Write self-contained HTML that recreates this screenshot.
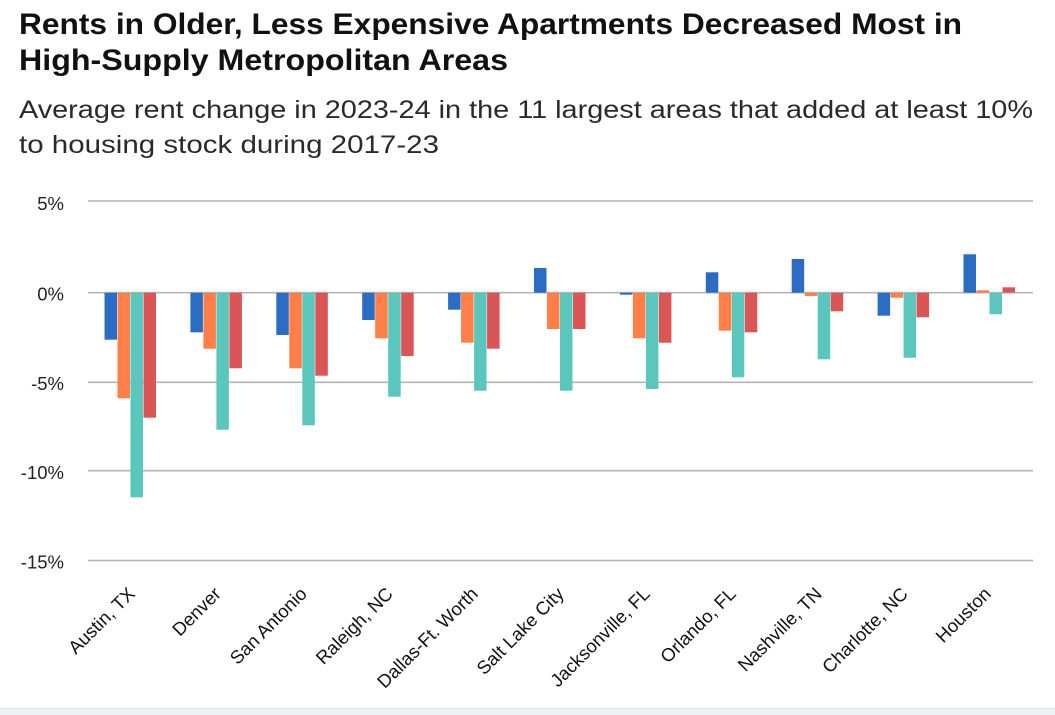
<!DOCTYPE html>
<html><head><meta charset="utf-8"><style>
html,body{margin:0;padding:0;background:#fff;}
svg{display:block;}
text{font-family:"Liberation Sans",sans-serif;}
</style></head><body>
<svg width="1055" height="715" viewBox="0 0 1055 715" xmlns="http://www.w3.org/2000/svg">
<rect width="1055" height="715" fill="#fff"/>
<text x="19" y="34" font-size="30" font-weight="bold" fill="#111" textLength="943" lengthAdjust="spacingAndGlyphs">Rents in Older, Less Expensive Apartments Decreased Most in</text>
<text x="19" y="70" font-size="30" font-weight="bold" fill="#111" textLength="489" lengthAdjust="spacingAndGlyphs">High-Supply Metropolitan Areas</text>
<text x="19" y="118" font-size="25" fill="#2a2a2a" textLength="1014" lengthAdjust="spacingAndGlyphs">Average rent change in 2023-24 in the 11 largest areas that added at least 10%</text>
<text x="19" y="153" font-size="25" fill="#2a2a2a" textLength="420" lengthAdjust="spacingAndGlyphs">to housing stock during 2017-23</text>
<g stroke="#b4b4b4" stroke-width="1.6">
<line x1="88" y1="201" x2="1033" y2="201"/>
<line x1="88" y1="382.3" x2="1033" y2="382.3"/>
<line x1="88" y1="470.7" x2="1033" y2="470.7"/>
<line x1="88" y1="560.5" x2="1033" y2="560.5"/>
<line x1="88" y1="292.7" x2="1033" y2="292.7"/>
</g>
<g font-size="18.5" fill="#222" text-anchor="end">
<text x="64" y="210">5%</text>
<text x="64" y="300.5">0%</text>
<text x="64" y="390">-5%</text>
<text x="64" y="479">-10%</text>
<text x="64" y="568.5">-15%</text>
</g>
<g>
<rect x="104.5" y="292.7" width="12.5" height="47" fill="#2b6cc4"/>
<rect x="117.5" y="292.7" width="12.5" height="105.6" fill="#fe7f48"/>
<rect x="130.5" y="292.7" width="12.5" height="204.6" fill="#5bc7bc"/>
<rect x="143.5" y="292.7" width="12.5" height="125" fill="#d95556"/>
<rect x="190.4" y="292.7" width="12.5" height="39.6" fill="#2b6cc4"/>
<rect x="203.4" y="292.7" width="12.5" height="56" fill="#fe7f48"/>
<rect x="216.4" y="292.7" width="12.5" height="137" fill="#5bc7bc"/>
<rect x="229.4" y="292.7" width="12.5" height="75.6" fill="#d95556"/>
<rect x="276.3" y="292.7" width="12.5" height="42.3" fill="#2b6cc4"/>
<rect x="289.3" y="292.7" width="12.5" height="75.6" fill="#fe7f48"/>
<rect x="302.3" y="292.7" width="12.5" height="132.6" fill="#5bc7bc"/>
<rect x="315.3" y="292.7" width="12.5" height="83" fill="#d95556"/>
<rect x="362.2" y="292.7" width="12.5" height="27.3" fill="#2b6cc4"/>
<rect x="375.2" y="292.7" width="12.5" height="45.6" fill="#fe7f48"/>
<rect x="388.2" y="292.7" width="12.5" height="104" fill="#5bc7bc"/>
<rect x="401.2" y="292.7" width="12.5" height="63.3" fill="#d95556"/>
<rect x="448.1" y="292.7" width="12.5" height="17" fill="#2b6cc4"/>
<rect x="461.1" y="292.7" width="12.5" height="50" fill="#fe7f48"/>
<rect x="474.1" y="292.7" width="12.5" height="98" fill="#5bc7bc"/>
<rect x="487.1" y="292.7" width="12.5" height="56" fill="#d95556"/>
<rect x="534" y="268" width="12.5" height="24.7" fill="#2b6cc4"/>
<rect x="547" y="292.7" width="12.5" height="36.3" fill="#fe7f48"/>
<rect x="560" y="292.7" width="12.5" height="98" fill="#5bc7bc"/>
<rect x="573" y="292.7" width="12.5" height="36.3" fill="#d95556"/>
<rect x="619.9" y="292.7" width="12.5" height="2" fill="#2b6cc4"/>
<rect x="632.9" y="292.7" width="12.5" height="45.6" fill="#fe7f48"/>
<rect x="645.9" y="292.7" width="12.5" height="96.3" fill="#5bc7bc"/>
<rect x="658.9" y="292.7" width="12.5" height="50" fill="#d95556"/>
<rect x="705.8" y="272.3" width="12.5" height="20.4" fill="#2b6cc4"/>
<rect x="718.8" y="292.7" width="12.5" height="38" fill="#fe7f48"/>
<rect x="731.8" y="292.7" width="12.5" height="84.6" fill="#5bc7bc"/>
<rect x="744.8" y="292.7" width="12.5" height="39.6" fill="#d95556"/>
<rect x="791.7" y="259" width="12.5" height="33.7" fill="#2b6cc4"/>
<rect x="804.7" y="292.7" width="12.5" height="3.3" fill="#fe7f48"/>
<rect x="817.7" y="292.7" width="12.5" height="66.6" fill="#5bc7bc"/>
<rect x="830.7" y="292.7" width="12.5" height="18.6" fill="#d95556"/>
<rect x="877.6" y="292.7" width="12.5" height="23" fill="#2b6cc4"/>
<rect x="890.6" y="292.7" width="12.5" height="5" fill="#fe7f48"/>
<rect x="903.6" y="292.7" width="12.5" height="65" fill="#5bc7bc"/>
<rect x="916.6" y="292.7" width="12.5" height="24.6" fill="#d95556"/>
<rect x="963.5" y="254.3" width="12.5" height="38.4" fill="#2b6cc4"/>
<rect x="976.5" y="290.3" width="12.5" height="2.4" fill="#fe7f48"/>
<rect x="989.5" y="292.7" width="12.5" height="21.6" fill="#5bc7bc"/>
<rect x="1002.5" y="287.3" width="12.5" height="5.4" fill="#d95556"/>
</g>
<g font-size="18.5" fill="#111" text-anchor="end">
<text transform="translate(136,595) rotate(-45)">Austin, TX</text>
<text transform="translate(222,595) rotate(-45)">Denver</text>
<text transform="translate(308,595) rotate(-45)">San Antonio</text>
<text transform="translate(394,595) rotate(-45)">Raleigh, NC</text>
<text transform="translate(479,595) rotate(-45)">Dallas-Ft. Worth</text>
<text transform="translate(565,595) rotate(-45)">Salt Lake City</text>
<text transform="translate(651,595) rotate(-45)">Jacksonville, FL</text>
<text transform="translate(737,595) rotate(-45)">Orlando, FL</text>
<text transform="translate(823,595) rotate(-45)">Nashville, TN</text>
<text transform="translate(909,595) rotate(-45)">Charlotte, NC</text>
<text transform="translate(992,595) rotate(-45)">Houston</text>
</g>
<line x1="0" y1="708.5" x2="1055" y2="708.5" stroke="#dcdcdc" stroke-width="1"/>
<rect x="0" y="709" width="1055" height="6" fill="#eef2f5"/>
</svg>
</body></html>
